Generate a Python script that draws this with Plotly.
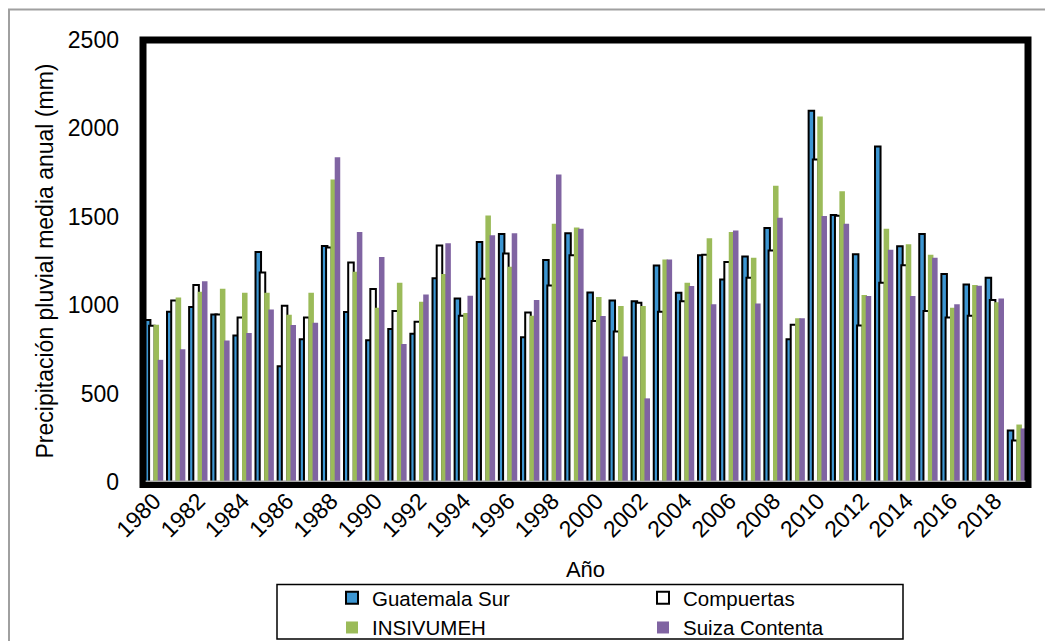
import plotly.graph_objects as go

years = list(range(1980, 2020))
guatemala_sur = [916, 963, 990, 948, 828, 1301, 654, 807, 1335, 962,
                 802, 866, 838, 1153, 1038, 1358, 1403, 819, 1256, 1407,
                 1072, 1027, 1022, 1224, 1070, 1283, 1146, 1275, 1437, 807,
                 2100, 1510, 1288, 1897, 1333, 1403, 1177, 1117, 1155, 291]
compuertas = [884, 1027, 1114, 948, 931, 1185, 997, 930, 1326, 1241,
              1091, 967, 907, 1337, 941, 1149, 1292, 959, 1112, 1283,
              911, 851, 1014, 963, 1023, 1285, 1245, 1155, 1309, 890,
              1824, 1506, 885, 1127, 1226, 967, 930, 941, 1029, 235]
insivumeh = [890, 1044, 1076, 1093, 1070, 1070, 946, 1070, 1711, 1189,
             986, 1127, 1020, 1177, 956, 1508, 1217, 941, 1461, 1440,
             1046, 995, 995, 1258, 1127, 1378, 1414, 1268, 1675, 926,
             2068, 1645, 1057, 1433, 1345, 1286, 986, 1114, 1016, 325]
suiza_contenta = [691, 751, 1136, 800, 843, 976, 888, 901, 1837, 1414,
                  1273, 781, 1061, 1350, 1054, 1395, 1407, 1029, 1739, 1433,
                  939, 710, 473, 1258, 1108, 1005, 1422, 1010, 1495, 926,
                  1504, 1461, 1052, 1313, 1052, 1269, 1005, 1110, 1038, 303]
tick_years = list(range(1980, 2019, 2))
tick_text = [str(y) for y in tick_years]

series = [
    ("Guatemala Sur", guatemala_sur, "#3D96D2", 2, -0.415),
    ("Compuertas", compuertas, "#FFFFFF", 2, -0.225),
    ("INSIVUMEH", insivumeh, "#9BBB59", 0, -0.025),
    ("Suiza Contenta", suiza_contenta, "#8064A2", 0, 0.165),
]

FONT = "Liberation Sans, Arial, sans-serif"
fig = go.Figure()
for name, vals, color, lw, off in series:
    fig.add_trace(go.Bar(
        x=years, y=vals, name=name, width=0.25, offset=off,
        marker=dict(color=color, line=dict(color="black", width=lw)),
    ))

# the page body adds an 8px margin; work in figure coordinates = screen - 8
OFF = 8
W, H = 1053 - OFF, 641 - OFF
L, R, T, B = 143 - OFF, W - (1028 - OFF), 40 - OFF, H - (482 - OFF)
pw, ph = W - L - R, H - T - B

def px(x):
    return (x - OFF - L) / pw

def py(y):
    return (H - B - (y - OFF)) / ph

shapes = [
    dict(type="line", xref="paper", yref="paper", x0=px(8), x1=px(1053), y0=py(9.5), y1=py(9.5),
         line=dict(color="#A0A0A0", width=2), layer="above"),
    dict(type="line", xref="paper", yref="paper", x0=px(9), x1=px(9), y0=py(9.5), y1=py(641),
         line=dict(color="#A0A0A0", width=2), layer="above"),
    dict(type="rect", xref="paper", yref="paper", x0=0, x1=1, y0=py(484.5), y1=1,
         line=dict(color="black", width=7), layer="above"),
    dict(type="line", xref="paper", yref="y", x0=0.003, x1=0.997, y0=0, y1=0,
         line=dict(color="#A6A6A6", width=3), layer="above"),
    dict(type="rect", xref="paper", yref="paper", x0=px(277), x1=px(903), y0=py(639), y1=py(584.5),
         line=dict(color="black", width=1.5), layer="above"),
]

fig.update_layout(
    width=W, height=H,
    margin=dict(l=L, r=R, t=T, b=B, autoexpand=False),
    paper_bgcolor="white", plot_bgcolor="white",
    font=dict(family=FONT, color="black", size=22),
    barmode="overlay",
    showlegend=True,
    legend=dict(orientation="h", x=px(332), xanchor="left", y=py(578), yanchor="top",
                entrywidth=266, entrywidthmode="pixels", traceorder="normal",
                font=dict(family=FONT, size=20.5, color="black"),
                bgcolor="rgba(0,0,0,0)", borderwidth=0, tracegroupgap=0, itemclick=False),
    xaxis=dict(range=[1979.5, 2019.5], tickmode="array", tickvals=tick_years, ticktext=tick_text,
               tickangle=-45, tickfont=dict(family=FONT, size=23), ticks="", showgrid=False,
               zeroline=False, showline=False,
               title=dict(text="Año", font=dict(family=FONT, size=22), standoff=20)),
    yaxis=dict(range=[0, 2500], tickvals=[0, 500, 1000, 1500, 2000, 2500],
               tickfont=dict(family=FONT, size=23), ticks="", ticklabelstandoff=23,
               showgrid=False, zeroline=False, showline=False,
               title=dict(text="Precipitación pluvial media anual (mm)",
                          font=dict(family=FONT, size=23), standoff=7)),
    shapes=shapes,
)

fig.write_html("out.html")
